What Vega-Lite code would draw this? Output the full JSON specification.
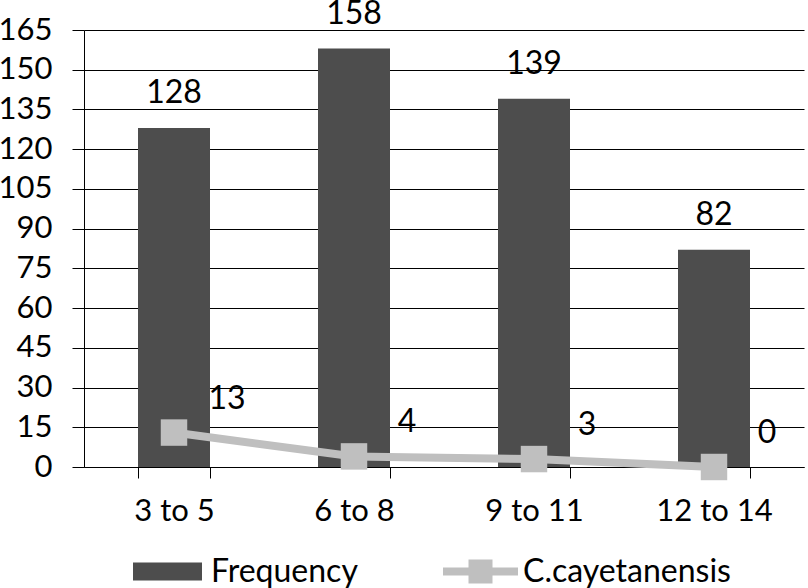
{
  "$schema": "https://vega.github.io/schema/vega-lite/v6.json",
  "width": 720,
  "height": 437,
  "autosize": "none",
  "padding": {"left": 84, "top": 30, "right": 4, "bottom": 121},
  "background": "white",
  "config": {
    "view": {"stroke": null},
    "font": "Lato",
    "axis": {"labelFont": "Lato", "labelColor": "black", "domainColor": "black", "tickColor": "black", "gridColor": "black"},
    "axisY": {"title": null, "values": [0,15,30,45,60,75,90,105,120,135,150,165], "labelOverlap": false, "labelFontSize": 31, "labelPadding": 20, "tickSize": 12, "tickWidth": 1, "gridWidth": 1, "domainWidth": 1}
  },
  "data": {
    "values": [
      {"age": "3 to 5", "Frequency": 128, "Cyclo": 13},
      {"age": "6 to 8", "Frequency": 158, "Cyclo": 4},
      {"age": "9 to 11", "Frequency": 139, "Cyclo": 3},
      {"age": "12 to 14", "Frequency": 82, "Cyclo": 0}
    ]
  },
  "encoding": {
    "x": {
      "field": "age", "type": "nominal", "sort": null,
      "scale": {"paddingInner": 0.6, "paddingOuter": 0.3},
      "axis": {"title": null, "labelAngle": 0, "labelFontSize": 31, "labelPadding": 18, "tickBand": "extent", "tickSize": 11, "tickWidth": 1, "domainWidth": 1}
    }
  },
  "layer": [
    {
      "mark": {"type": "bar"},
      "encoding": {
        "y": {
          "field": "Frequency", "type": "quantitative", "title": null,
          "scale": {"domain": [0, 165], "nice": false},
          "axis": {"values": [0,15,30,45,60,75,90,105,120,135,150,165], "labelOverlap": false}
        },
        "color": {
          "datum": "Frequency",
          "scale": {"range": ["#4d4d4d"]},
          "legend": {
            "title": null, "orient": "none", "legendX": 49, "legendY": 507, "padding": 0,
            "symbolType": "M-1,-0.26H1V0.26H-1Z", "symbolSize": 4761, "symbolStrokeWidth": 0, "symbolOpacity": 1,
            "labelFontSize": 32, "labelFont": "Lato", "labelColor": "black", "labelOffset": 9, "labelLimit": 400
          }
        }
      }
    },
    {
      "mark": {"type": "text", "fontSize": 32, "baseline": "middle", "align": "center", "dy": -35, "color": "black"},
      "encoding": {
        "y": {"field": "Frequency", "type": "quantitative", "title": null, "axis": {"values": [0,15,30,45,60,75,90,105,120,135,150,165], "labelOverlap": false}},
        "text": {"field": "Frequency", "type": "quantitative"}
      }
    },
    {
      "mark": {"type": "line", "color": "#bfbfbf", "strokeWidth": 8},
      "encoding": {
        "y": {"field": "Cyclo", "type": "quantitative", "title": null, "axis": {"values": [0,15,30,45,60,75,90,105,120,135,150,165], "labelOverlap": false}}
      }
    },
    {
      "mark": {"type": "point", "shape": "square", "filled": true, "size": 700, "opacity": 1},
      "encoding": {
        "y": {"field": "Cyclo", "type": "quantitative", "title": null, "axis": {"values": [0,15,30,45,60,75,90,105,120,135,150,165], "labelOverlap": false}},
        "color": {
          "datum": "C.cayetanensis",
          "scale": {"range": ["#bfbfbf"]},
          "legend": {
            "title": null, "orient": "none", "legendX": 359, "legendY": 504, "padding": 0,
            "symbolType": "M-1,-0.107H1V0.107H-1Z M-0.32,-0.32H0.32V0.32H-0.32Z", "symbolSize": 5625, "symbolStrokeWidth": 0, "symbolOpacity": 1,
            "labelFontSize": 32, "labelFont": "Lato", "labelColor": "black", "labelOffset": 5, "labelLimit": 400
          }
        }
      }
    },
    {
      "mark": {"type": "text", "fontSize": 32, "baseline": "middle", "align": "center", "dx": 53, "dy": -34, "color": "black"},
      "encoding": {
        "y": {"field": "Cyclo", "type": "quantitative", "title": null, "axis": {"values": [0,15,30,45,60,75,90,105,120,135,150,165], "labelOverlap": false}},
        "text": {"field": "Cyclo", "type": "quantitative"}
      }
    }
  ],
  "resolve": {"scale": {"color": "independent"}, "legend": {"color": "independent"}}
}
